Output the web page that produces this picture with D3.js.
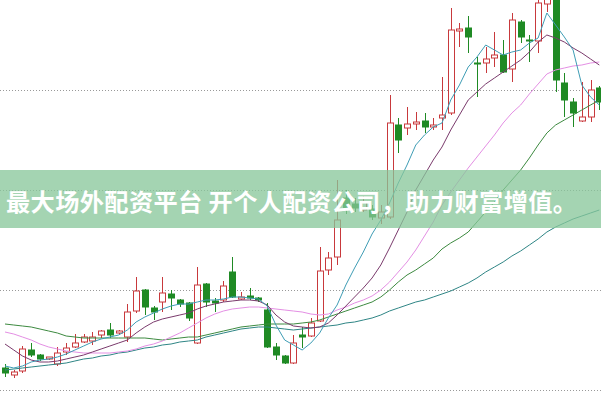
<!DOCTYPE html>
<html><head><meta charset="utf-8">
<script src="https://cdn.jsdelivr.net/npm/d3@7/dist/d3.min.js"></script>
<style>html,body{margin:0;padding:0;background:#fff;}svg{display:block;}</style>
</head><body><div id="chart"></div>
<script>
const W = 601, H = 401;
const gridValues = [10, 11, 12, 13];
const bannerText = "最大场外配资平台 开个人配资公司，助力财富增值。";

const open  = [10.22,10.15,10.19,10.40,10.35,10.31,10.26,10.38,10.43,10.48,10.49,10.55,10.60,10.57,10.53,10.79,11.00,10.82,10.88,10.96,10.90,10.87,10.47,11.06,10.89,10.90,11.18,10.91,10.94,10.92,10.80,10.43,10.34,10.27,10.55,10.54,10.69,11.20,11.33,11.92,11.86,11.80,11.81,11.72,11.73,12.65,12.62,12.66,12.69,12.63,12.72,12.77,13.59,13.62,13.27,13.27,13.32,13.35,13.21,13.68,13.50,13.49,13.86,13.95,13.07,12.88,12.69,12.73,13.02];
const close = [10.17,10.18,10.41,10.35,10.31,10.33,10.37,10.42,10.47,10.53,10.53,10.59,10.55,10.59,10.78,10.99,10.83,10.78,10.97,10.92,10.86,10.72,11.05,10.88,10.87,11.04,10.93,10.93,10.92,10.90,10.43,10.35,10.27,10.47,10.53,10.67,11.19,11.32,11.70,11.80,11.82,11.88,11.73,11.78,12.67,12.50,12.66,12.68,12.63,12.65,12.75,13.60,13.61,13.53,13.26,13.31,13.35,13.18,13.70,13.53,13.49,13.87,13.98,13.10,12.90,12.77,12.73,13.00,12.88];
const high  = [10.26,10.20,10.44,10.47,10.36,10.33,10.43,10.47,10.56,10.56,10.58,10.60,10.67,10.60,10.86,11.13,11.01,10.84,11.13,11.00,10.91,10.88,11.23,11.07,10.92,11.09,11.33,10.98,11.02,10.93,10.87,10.47,10.35,10.55,10.63,10.72,11.43,11.38,12.10,12.00,11.92,11.94,11.85,11.85,12.95,12.72,12.83,12.78,12.77,12.72,13.13,13.82,13.67,13.74,13.33,13.43,13.58,13.50,13.77,13.70,13.55,13.90,14.05,14.00,13.17,12.92,13.08,13.10,13.04];
const low   = [10.13,10.12,10.17,10.33,10.29,10.30,10.24,10.35,10.42,10.47,10.45,10.52,10.52,10.56,10.48,10.77,10.75,10.70,10.78,10.80,10.83,10.69,10.46,10.83,10.78,10.88,10.92,10.90,10.90,10.88,10.42,10.30,10.26,10.26,10.42,10.53,10.68,11.15,11.25,11.76,11.78,11.78,11.70,11.66,11.71,12.37,12.55,12.60,12.57,12.60,12.60,12.75,13.43,13.37,12.93,13.17,13.23,13.17,13.08,13.47,13.28,13.37,13.78,12.98,12.73,12.63,12.68,12.68,12.80];

const ma5  = [10.24,10.22,10.24,10.28,10.30,10.31,10.33,10.36,10.40,10.44,10.48,10.51,10.53,10.55,10.60,10.68,10.73,10.77,10.81,10.84,10.86,10.86,10.88,10.90,10.90,10.91,10.93,10.93,10.92,10.91,10.84,10.65,10.50,10.45,10.40,10.47,10.57,10.72,10.85,11.05,11.22,11.38,11.56,11.70,11.87,12.07,12.25,12.45,12.55,12.63,12.67,12.90,13.05,13.23,13.33,13.45,13.40,13.35,13.38,13.40,13.47,13.52,13.77,13.65,13.53,13.40,13.05,12.93,12.85];
const ma10 = [10.46,10.40,10.34,10.30,10.28,10.28,10.29,10.31,10.33,10.35,10.38,10.41,10.44,10.47,10.50,10.57,10.63,10.68,10.71,10.73,10.75,10.77,10.81,10.84,10.86,10.88,10.89,10.90,10.90,10.89,10.85,10.75,10.68,10.64,10.63,10.62,10.63,10.67,10.75,10.84,10.93,11.02,11.12,11.25,11.42,11.60,11.78,12.00,12.15,12.30,12.43,12.60,12.75,12.90,12.98,13.06,13.12,13.18,13.24,13.30,13.38,13.48,13.55,13.52,13.48,13.42,13.37,13.31,13.25];
const ma20 = [10.58,10.56,10.53,10.50,10.46,10.43,10.41,10.39,10.38,10.37,10.37,10.37,10.37,10.38,10.39,10.41,10.44,10.46,10.49,10.53,10.57,10.62,10.67,10.72,10.76,10.79,10.81,10.82,10.83,10.83,10.82,10.81,10.80,10.79,10.78,10.76,10.75,10.76,10.80,10.83,10.87,10.90,10.94,11.00,11.08,11.18,11.28,11.40,11.54,11.68,11.85,11.98,12.10,12.22,12.33,12.44,12.55,12.67,12.77,12.85,12.96,13.06,13.16,13.20,13.22,13.24,13.25,13.27,13.28];
const ma30 = [10.66,10.65,10.64,10.63,10.61,10.59,10.57,10.54,10.53,10.52,10.52,10.52,10.52,10.52,10.52,10.52,10.52,10.51,10.50,10.51,10.52,10.53,10.53,10.55,10.57,10.59,10.61,10.63,10.64,10.65,10.66,10.66,10.66,10.66,10.67,10.68,10.70,10.73,10.76,10.79,10.82,10.85,10.88,10.93,11.00,11.08,11.15,11.20,11.26,11.32,11.41,11.47,11.52,11.58,11.68,11.78,11.88,12.00,12.10,12.20,12.32,12.45,12.57,12.65,12.70,12.75,12.80,12.85,12.90];
const ma60 = [10.20,10.21,10.22,10.23,10.24,10.25,10.26,10.27,10.29,10.31,10.32,10.34,10.35,10.37,10.38,10.40,10.42,10.43,10.45,10.46,10.48,10.49,10.50,10.53,10.55,10.57,10.59,10.61,10.62,10.63,10.63,10.62,10.61,10.60,10.61,10.62,10.63,10.64,10.65,10.67,10.68,10.70,10.72,10.75,10.79,10.82,10.85,10.88,10.90,10.93,10.96,10.99,11.03,11.07,11.12,11.18,11.23,11.28,11.34,11.39,11.45,11.51,11.58,11.63,11.67,11.71,11.74,11.77,11.80];

const n = open.length;
const idx = d3.range(n);
const x = d3.scaleLinear().domain([0, n - 1]).range([5, 599.3]);
const y = d3.scaleLinear().domain([10, 13]).range([390, 90]);

const svg = d3.select("#chart").append("svg").attr("width", W).attr("height", H);
svg.append("rect").attr("width", W).attr("height", H).attr("fill", "#fff");

// grid
svg.append("g").selectAll("line").data(gridValues).join("line")
  .attr("x1", 0).attr("x2", W)
  .attr("y1", d => Math.round(y(d)) + 0.5).attr("y2", d => Math.round(y(d)) + 0.5)
  .attr("stroke", "#999").attr("stroke-width", 1).attr("stroke-dasharray", "1,2");

const RED = "#c8393c", GREEN = "#1f8a24";
const bw = 6;
const g = svg.append("g");
idx.forEach(i => {
  const up = close[i] >= open[i];
  const col = up ? RED : GREEN;
  const cx = Math.round(x(i)) + 0.5;
  const top = y(Math.max(open[i], close[i])), bot = y(Math.min(open[i], close[i]));
  g.append("line").attr("x1", cx).attr("x2", cx)
    .attr("y1", y(high[i])).attr("y2", top).attr("stroke", col);
  g.append("line").attr("x1", cx).attr("x2", cx)
    .attr("y1", bot).attr("y2", y(low[i])).attr("stroke", col);
  g.append("rect").attr("x", cx - bw / 2).attr("y", top)
    .attr("width", bw).attr("height", Math.max(1, bot - top))
    .attr("fill", up ? "#fff" : col).attr("stroke", col).attr("stroke-width", 1);
});

const lines = [
  [ma60, "#2e8585"],
  [ma30, "#3d8a40"],
  [ma20, "#e48fe4"],
  [ma10, "#7a3a6c"],
  [ma5,  "#3f9db5"]
];
const lineGen = d3.line().x((d, i) => x(i)).y(d => y(d));
lines.forEach(([data, col]) => {
  svg.append("path").datum(data).attr("d", lineGen)
    .attr("fill", "none").attr("stroke", col).attr("stroke-width", 1);
});

// banner
svg.append("rect").attr("x", 0).attr("y", 170).attr("width", W).attr("height", 58)
  .attr("fill", "rgb(136,199,154)").attr("opacity", 0.76);
svg.append("text").attr("x", 6).attr("y", 200)
  .attr("dominant-baseline", "central")
  .attr("font-family", "'Noto Sans CJK SC', sans-serif")
  .attr("font-weight", "bold").attr("font-size", 24.2)
  .attr("letter-spacing", 0.4)
  .attr("fill", "#fff").text(bannerText);
</script>
</body></html>
